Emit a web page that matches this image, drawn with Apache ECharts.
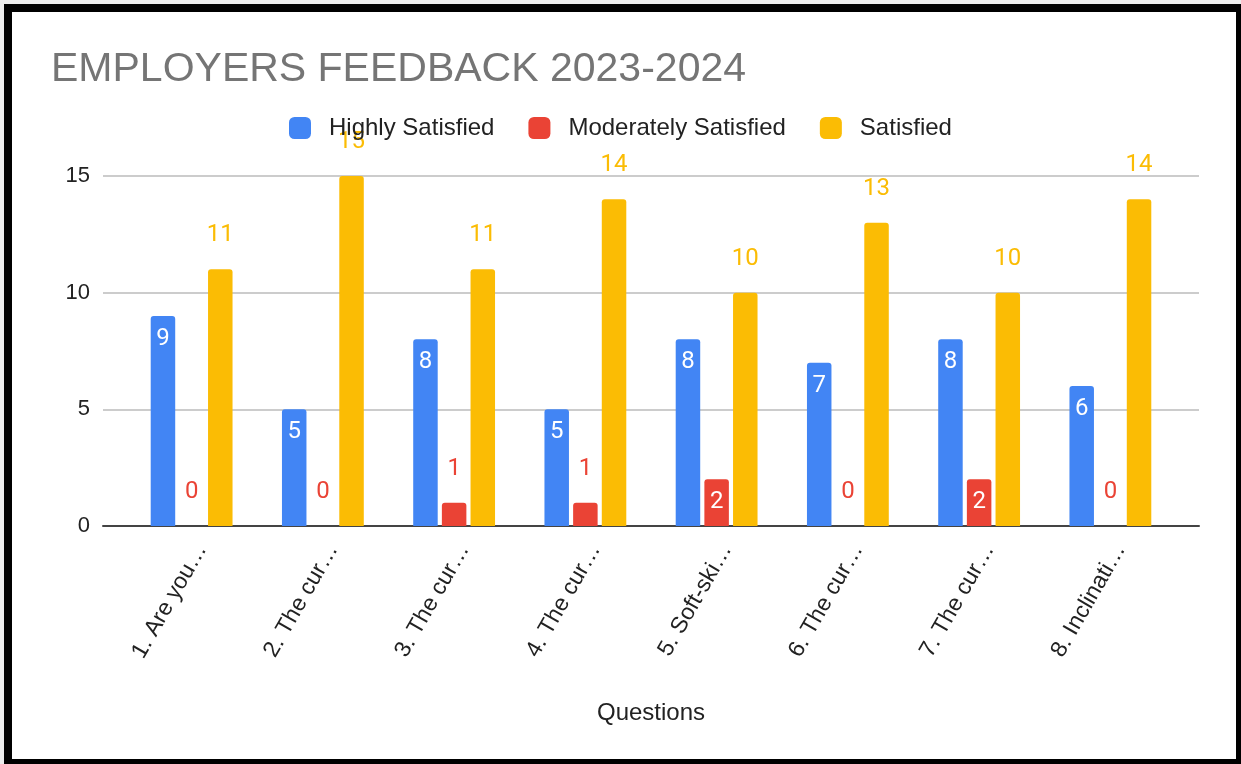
<!DOCTYPE html>
<html>
<head>
<meta charset="utf-8">
<script src="https://cdn.jsdelivr.net/npm/echarts@6/dist/echarts.min.js"></script>
<style>
  html, body { margin: 0; padding: 0; width: 1241px; height: 764px; overflow: hidden; background: #ececec; }
  #frame { position: absolute; left: 4px; top: 4px; width: 1240px; height: 763px; box-sizing: border-box; border: 8px solid #000; background: #fff; }
  #chart { position: absolute; left: 0; top: 0; width: 1241px; height: 764px; }
</style>
</head>
<body>
<div id="frame"></div>
<div id="chart"></div>
<script>
const titleText = 'EMPLOYERS FEEDBACK 2023-2024';
const categories = ['1. Are you\u2026', '2. The cur\u2026', '3. The cur\u2026', '4. The cur\u2026', '5. Soft-ski\u2026', '6. The cur\u2026', '7. The cur\u2026', '8. Inclinati\u2026'];
const seriesNames = ['Highly Satisfied', 'Moderately Satisfied', 'Satisfied'];
const highlySatisfied = [9, 5, 8, 5, 8, 7, 8, 6];
const moderatelySatisfied = [0, 0, 1, 1, 2, 0, 2, 0];
const satisfied = [11, 15, 11, 14, 10, 13, 10, 14];
const yTicks = [0, 5, 10, 15];
const xAxisName = 'Questions';

const colors = ['#4285F4', '#EA4335', '#FBBC04'];
const labelFont = { fontFamily: 'Roboto', fontSize: 24 };

function makeData(vals, color, insideMin) {
  return vals.map(v => ({
    value: v,
    label: v >= insideMin
      ? Object.assign({ position: 'insideTop', distance: 11, color: '#fff' }, labelFont)
      : Object.assign({ position: 'top', distance: 22, color: color }, labelFont)
  }));
}

const chart = echarts.init(document.getElementById('chart'), null, { renderer: 'canvas' });
const yMin = yTicks[0], yMax = yTicks[yTicks.length - 1], yStep = yTicks[1] - yTicks[0];

chart.setOption({
  backgroundColor: 'transparent',
  animation: false,
  color: colors,
  title: {
    text: titleText,
    left: 46, top: 44,
    textStyle: { fontFamily: 'Liberation Sans', fontSize: 41, fontWeight: 'normal', color: '#757575' }
  },
  legend: {
    data: seriesNames,
    left: 289, top: 116,
    padding: 0,
    icon: 'roundRect',
    itemWidth: 22, itemHeight: 22,
    itemGap: 34,
    itemStyle: { borderRadius: 3 },
    textStyle: { fontFamily: 'Liberation Sans', fontSize: 24, color: '#222', padding: [0, 0, 0, 13] }
  },
  grid: [
    { left: 103, right: 42, top: 176, bottom: 238, containLabel: false },
    { left: 126, right: 65, top: 176, bottom: 238, containLabel: false }
  ],
  xAxis: [
    {
      gridIndex: 0, type: 'value', min: 0, max: 1,
      axisLine: { show: true, onZero: true, lineStyle: { color: '#444', width: 2 } },
      axisTick: { show: false }, axisLabel: { show: false }, splitLine: { show: false },
      name: xAxisName, nameLocation: 'middle', nameGap: 175,
      nameTextStyle: { fontFamily: 'Liberation Sans', fontSize: 24, color: '#222' }
    },
    {
      gridIndex: 1, type: 'category', data: categories,
      axisLine: { show: false }, axisTick: { show: false },
      axisLabel: { interval: 0, rotate: 60, margin: 14, verticalAlign: 'top', fontFamily: 'Liberation Sans', fontSize: 23, color: '#222' }
    }
  ],
  yAxis: [
    {
      gridIndex: 0, type: 'value', min: yMin, max: yMax, interval: yStep,
      axisLine: { show: false }, axisTick: { show: false },
      axisLabel: { margin: 13, fontFamily: 'Liberation Sans', fontSize: 22, color: '#222' },
      splitLine: { show: true, lineStyle: { color: '#cccccc', width: 2 } }
    },
    {
      gridIndex: 1, type: 'value', min: yMin, max: yMax, interval: yStep,
      show: false, splitLine: { show: false }
    }
  ],
  series: [
    { name: seriesNames[0], type: 'bar', xAxisIndex: 1, yAxisIndex: 1, barWidth: 24.5, barGap: '17%',
      itemStyle: { color: colors[0], borderRadius: [3, 3, 0, 0] }, label: { show: true },
      data: makeData(highlySatisfied, colors[0], 2) },
    { name: seriesNames[1], type: 'bar', xAxisIndex: 1, yAxisIndex: 1, barWidth: 24.5, barGap: '17%',
      itemStyle: { color: colors[1], borderRadius: [3, 3, 0, 0] }, label: { show: true },
      data: makeData(moderatelySatisfied, colors[1], 2) },
    { name: seriesNames[2], type: 'bar', xAxisIndex: 1, yAxisIndex: 1, barWidth: 24.5, barGap: '17%',
      itemStyle: { color: colors[2], borderRadius: [3, 3, 0, 0] }, label: { show: true },
      data: makeData(satisfied, colors[2], Infinity) }
  ]
});
</script>
</body>
</html>
